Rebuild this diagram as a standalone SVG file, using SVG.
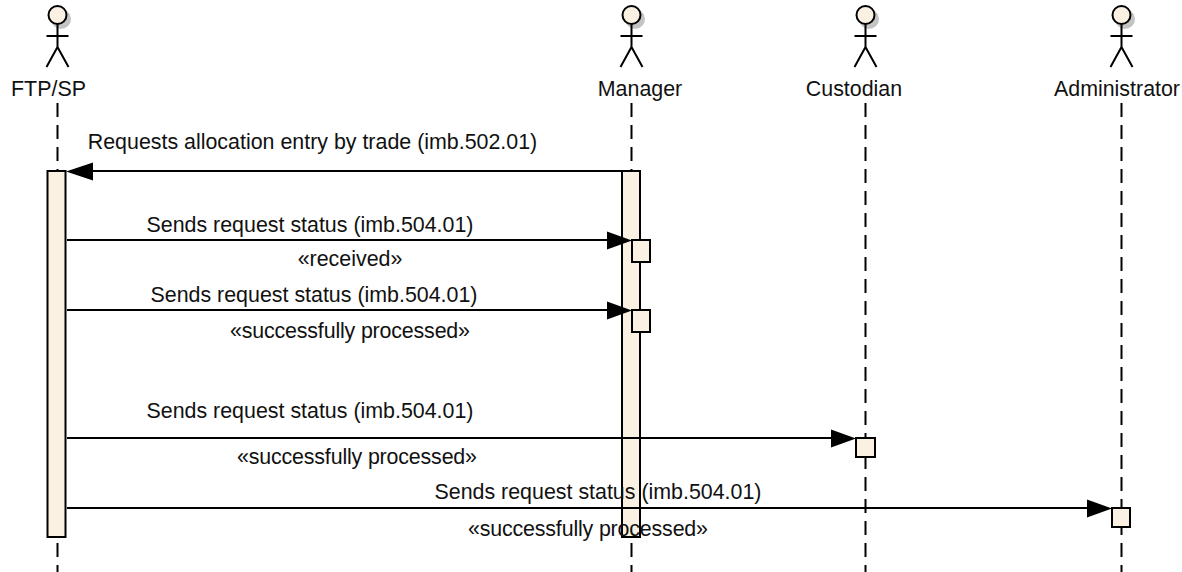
<svg xmlns="http://www.w3.org/2000/svg" width="1182" height="572" viewBox="0 0 1182 572">
<style>
text{font-family:"Liberation Sans",Arial,sans-serif;font-size:21.4px;fill:#111;text-anchor:middle}
.s{fill:none;stroke:#000;stroke-width:2}
.life{fill:none;stroke:#000;stroke-width:2;stroke-dasharray:14 8}
.box{fill:#fbf1e3;stroke:#000;stroke-width:2}
.shadow{fill:#c4c4c4;stroke:none}
.msg{fill:none;stroke:#000;stroke-width:2}
</style>
<defs>
<g id="actor">
<circle class="shadow" cx="3.5" cy="4" r="10"/>
<circle class="box" cx="0" cy="0" r="9"/>
<path class="s" d="M0 9V32M-11 21H11M0 32L-11 52M0 32L11 52"/>
</g>
</defs>
<g id="lifelines">
<path class="life" d="M57.5 103V572"/>
<path class="life" d="M631.5 103V572"/>
<path class="life" d="M865.5 103V572"/>
<path class="life" d="M1121.5 103V572"/>
</g>
<g id="node-ftpsp">
<use href="#actor" x="57.5" y="15"/>
<text x="48.5" y="96">FTP/SP</text>
<rect class="box" x="47.5" y="171" width="18" height="366"/>
</g>
<g id="node-manager">
<use href="#actor" x="631.5" y="15"/>
<text x="640" y="96">Manager</text>
<rect class="box" x="622" y="171" width="18" height="366"/>
<rect class="box" x="632" y="240" width="18" height="22"/>
<rect class="box" x="632" y="310" width="18" height="22"/>
</g>
<g id="node-custodian">
<use href="#actor" x="865.5" y="15"/>
<text x="854" y="96">Custodian</text>
<rect class="box" x="856" y="438" width="19" height="19"/>
</g>
<g id="node-administrator">
<use href="#actor" x="1121.5" y="15"/>
<text x="1117" y="96">Administrator</text>
<rect class="box" x="1112" y="508" width="18" height="19"/>
</g>
<g id="connectors">
<path class="msg" d="M622 171H90"/><path d="M66 171.500L93 162.500V180.500Z"/>
<path class="msg" d="M67 240H610"/><path d="M632 240.500L607 231.500V249.500Z"/>
<path class="msg" d="M67 310H610"/><path d="M632 310.500L607 301.500V319.500Z"/>
<path class="msg" d="M67 438H834"/><path d="M856 438.500L831 429.500V447.500Z"/>
<path class="msg" d="M67 508H1090"/><path d="M1112 508.500L1087 499.500V517.500Z"/>
</g>
<g id="labels">
<text x="312.500" y="149">Requests allocation entry by trade (imb.502.01)</text>
<text x="310" y="232">Sends request status (imb.504.01)</text>
<text x="350" y="266">«received»</text>
<text x="314" y="302">Sends request status (imb.504.01)</text>
<text x="350" y="338" textLength="240" lengthAdjust="spacing">«successfully processed»</text>
<text x="310" y="418">Sends request status (imb.504.01)</text>
<text x="357" y="464" textLength="240" lengthAdjust="spacing">«successfully processed»</text>
<text x="598" y="499">Sends request status (imb.504.01)</text>
<text x="588" y="536" textLength="240" lengthAdjust="spacing">«successfully processed»</text>
</g>
</svg>
